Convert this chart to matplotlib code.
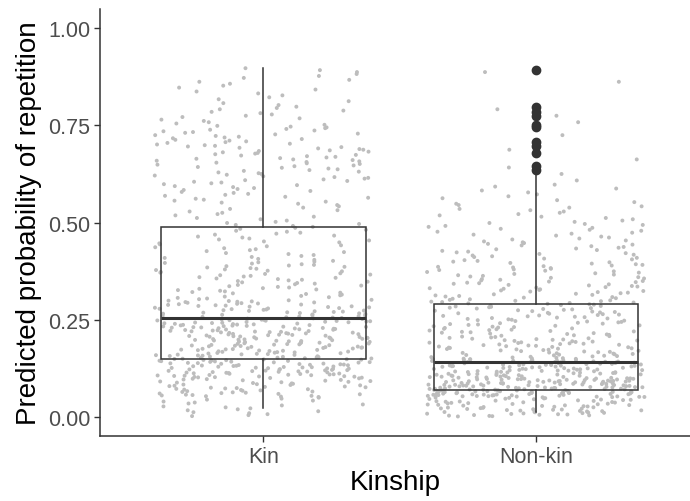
import matplotlib
matplotlib.use("Agg")
import matplotlib.pyplot as plt
import numpy as np

plt.rcParams['font.family'] = ['Liberation Sans', 'DejaVu Sans']

groups = ['Kin', 'Non-kin']

# point counts per 0.05-wide probability bin (0.00-0.05, 0.05-0.10, ... 0.85-0.90)
bin_edges = np.arange(0, 0.95, 0.05)
kin_counts = [20, 50, 80, 70, 75, 55, 30, 30, 20, 20, 15, 20, 25, 30, 25, 15, 10, 10]
nonkin_counts = [70, 140, 100, 55, 45, 45, 35, 30, 25, 20, 15, 10, 3, 2, 1, 3, 0, 2]

# box statistics
medians = [0.254, 0.141]
q1s = [0.149, 0.068]
q3s = [0.489, 0.289]
whisk_lo = [0.023, 0.012]
whisk_hi = [0.897, 0.622]
kin_outliers = []
nonkin_outliers = [0.894, 0.798, 0.785, 0.775, 0.751, 0.745, 0.708, 0.697, 0.680, 0.645, 0.635]


def spread(counts, start):
    # points evenly over each bin; horizontal jitter from a quadratic Weyl sequence
    xs, ys = [], []
    k = start
    for lo, n in zip(bin_edges[:-1], counts):
        for j in range(n):
            ys.append(lo + 0.05 * (j + 0.5) / n)
            xs.append((k * k * np.sqrt(2) + k * np.sqrt(3)) % 1.0)
            k += 1
    return np.array(xs), np.array(ys)


fig = plt.figure(figsize=(6.9, 5.02), dpi=100)
ax = fig.add_axes([100 / 690, 65 / 502, 590 / 690, 427 / 502])

for i, counts in enumerate([kin_counts, nonkin_counts]):
    xf, yv = spread(counts, 11 + 700 * i)
    ax.scatter(i + 1 + xf * 0.8 - 0.4, yv, s=8, color='#bdbdbd', edgecolors='none', zorder=1)

stats = []
for i in range(2):
    stats.append(dict(med=medians[i], q1=q1s[i], q3=q3s[i],
                      whislo=whisk_lo[i], whishi=whisk_hi[i],
                      fliers=[kin_outliers, nonkin_outliers][i]))
ax.bxp(stats, positions=[1, 2], widths=0.75, showcaps=False, patch_artist=True,
       boxprops=dict(facecolor='none', edgecolor='#333333', linewidth=1.1),
       whiskerprops=dict(color='#333333', linewidth=1.1),
       medianprops=dict(color='#333333', linewidth=2.2),
       flierprops=dict(marker='o', markersize=6, markerfacecolor='#333333',
                       markeredgecolor='#333333'),
       zorder=3)

ax.set_xlim(0.4, 2.566)
ax.set_ylim(-0.05, 1.05)
ax.set_xticks([1, 2])
ax.set_xticklabels(groups)
ax.set_yticks([0, 0.25, 0.5, 0.75, 1.0])
ax.set_yticklabels(['0.00', '0.25', '0.50', '0.75', '1.00'])
ax.tick_params(colors='#333333', labelcolor='#4d4d4d', labelsize=15.5, length=4, width=1, pad=3)
for s in ['top', 'right']:
    ax.spines[s].set_visible(False)
for s in ['left', 'bottom']:
    ax.spines[s].set_color('#333333')
    ax.spines[s].set_linewidth(1.1)
ax.set_xlabel('Kinship', fontsize=20, color='black', labelpad=2)
ax.set_ylabel('Predicted probability of repetition', fontsize=20, color='black', labelpad=4)

fig.savefig('out.png', dpi=100)
